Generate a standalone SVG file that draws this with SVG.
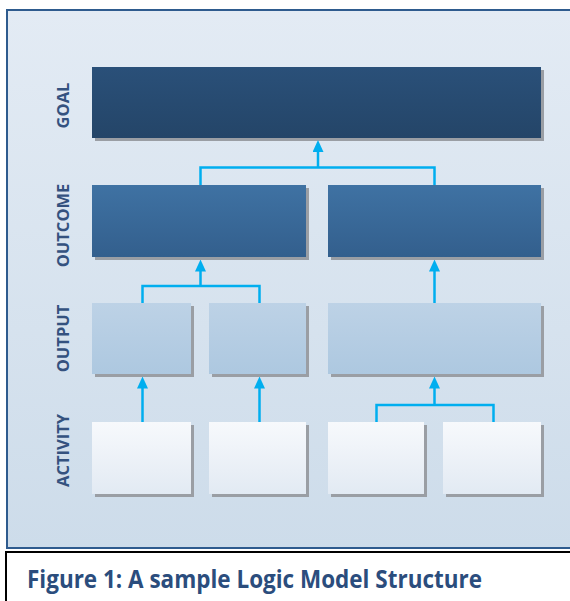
<svg xmlns="http://www.w3.org/2000/svg" width="570" height="601" viewBox="0 0 570 601">
<defs>
<linearGradient id="gPanel" x1="0" y1="0" x2="0" y2="1"><stop offset="0" stop-color="#e3ebf4"/><stop offset="1" stop-color="#cddcea"/></linearGradient>
<linearGradient id="gGoal" x1="0" y1="0" x2="0" y2="1"><stop offset="0" stop-color="#2a5079"/><stop offset="1" stop-color="#244568"/></linearGradient>
<linearGradient id="gOutcome" x1="0" y1="0" x2="0" y2="1"><stop offset="0" stop-color="#3f72a3"/><stop offset="1" stop-color="#335f8d"/></linearGradient>
<linearGradient id="gOutput" x1="0" y1="0" x2="0" y2="1"><stop offset="0" stop-color="#bdd2e6"/><stop offset="1" stop-color="#adc8e0"/></linearGradient>
<linearGradient id="gActivity" x1="0" y1="0" x2="0" y2="1"><stop offset="0" stop-color="#f7f9fc"/><stop offset="1" stop-color="#e2eaf3"/></linearGradient>
<marker id="arr" markerUnits="userSpaceOnUse" markerWidth="12" markerHeight="11" viewBox="0 0 12 11" refX="1" refY="5.5" orient="auto">
<path d="M0,0 L12,5.5 L0,11 z" fill="#00aeef"/>
</marker>
</defs>
<style>
.shadow{fill:#9a9ea4;}
.goal{fill:url(#gGoal);}
.outcome{fill:url(#gOutcome);}
.output{fill:url(#gOutput);}
.activity{fill:url(#gActivity);}
.lbl{font-family:"Open Sans","Liberation Sans",sans-serif;font-weight:bold;font-size:16.5px;fill:#34527f;text-anchor:middle;}
.conn{fill:none;stroke:#00aeef;stroke-width:2.5;}
.cap{font-family:"Open Sans","Liberation Sans",sans-serif;font-weight:bold;font-size:24.5px;fill:#2b4d7d;}
</style>
<rect x="7" y="10" width="600" height="538" fill="url(#gPanel)" stroke="#2e5b8e" stroke-width="2"/>
<rect x="6" y="552" width="600" height="60" fill="#ffffff" stroke="#000000" stroke-width="2"/>
<text class="cap" x="27" y="588" textLength="455" lengthAdjust="spacingAndGlyphs">Figure 1: A sample Logic Model Structure</text>
<g id="labels">
<text class="lbl" transform="translate(69,105.5) rotate(-90)">GOAL</text>
<text class="lbl" transform="translate(69,225.5) rotate(-90)">OUTCOME</text>
<text class="lbl" transform="translate(69,338.5) rotate(-90)">OUTPUT</text>
<text class="lbl" transform="translate(69,450.5) rotate(-90)">ACTIVITY</text>
</g>
<g id="goal"><rect class="shadow" x="95" y="70" width="449" height="71"/><rect class="goal" x="92" y="67" width="449" height="71"/></g>
<g id="outcome1"><rect class="shadow" x="95" y="188" width="214" height="72"/><rect class="outcome" x="92" y="185" width="214" height="72"/></g>
<g id="outcome2"><rect class="shadow" x="331" y="188" width="213" height="72"/><rect class="outcome" x="328" y="185" width="213" height="72"/></g>
<g id="output1"><rect class="shadow" x="95" y="306" width="99" height="71"/><rect class="output" x="92" y="303" width="99" height="71"/></g>
<g id="output2"><rect class="shadow" x="212" y="306" width="97" height="71"/><rect class="output" x="209" y="303" width="97" height="71"/></g>
<g id="output3"><rect class="shadow" x="331" y="306" width="213" height="71"/><rect class="output" x="328" y="303" width="213" height="71"/></g>
<g id="activity1"><rect class="shadow" x="95" y="425" width="99" height="72"/><rect class="activity" x="92" y="422" width="99" height="72"/></g>
<g id="activity2"><rect class="shadow" x="212" y="425" width="97" height="72"/><rect class="activity" x="209" y="422" width="97" height="72"/></g>
<g id="activity3"><rect class="shadow" x="331" y="425" width="96" height="72"/><rect class="activity" x="328" y="422" width="96" height="72"/></g>
<g id="activity4"><rect class="shadow" x="446" y="425" width="98" height="72"/><rect class="activity" x="443" y="422" width="98" height="72"/></g>
<g id="connectors">
<path class="conn" d="M200.5,185 V167.5 H434.5 V185"/>
<path class="conn" d="M318,167.5 V151" marker-end="url(#arr)"/>
<path class="conn" d="M142.5,303 V286 H259.5 V303"/>
<path class="conn" d="M200.5,286 V270.5" marker-end="url(#arr)"/>
<path class="conn" d="M434.5,303 V270.5" marker-end="url(#arr)"/>
<path class="conn" d="M142.5,422 V387.5" marker-end="url(#arr)"/>
<path class="conn" d="M259.5,422 V387.5" marker-end="url(#arr)"/>
<path class="conn" d="M376.5,422 V405 H493.5 V422"/>
<path class="conn" d="M434.5,405 V387.5" marker-end="url(#arr)"/>
</g>
</svg>
